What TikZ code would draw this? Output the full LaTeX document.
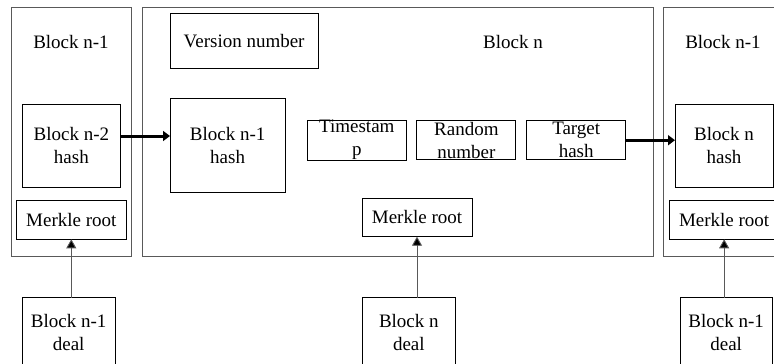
\documentclass[tikz,border=0pt]{standalone}
\usepackage{fontspec}
\setmainfont{Liberation Serif}
\usepackage{tikz}
\usetikzlibrary{positioning, arrows.meta}

\tikzset{
    outer/.style={draw=black!65, line width=0.9pt, inner sep=0pt, outer sep=0pt},
    inbox/.style={draw=black, line width=0.8pt, inner sep=0pt, outer sep=0pt, align=center},
    lbl/.style={inner sep=0pt},
    bigarrow/.style={line width=3pt, -{Triangle[length=7pt, width=10pt]}},
    smallarrow/.style={draw=black!65, line width=0.9pt, -{Triangle[length=9pt, width=10pt, fill=black]}}
}

\begin{document}
\begin{tikzpicture}[x=1pt, y=-1pt, font=\fontsize{19}{23}\selectfont]
        \useasboundingbox (0,0) rectangle (774,364);
        \clip (0,0) rectangle (774,364);

        \foreach \n/\x/\w in {blkL/71.35/120.7, blkN/398/510.6, blkR/727/126.6} {
            \node[outer, minimum width=\w, minimum height=248.3] (\n) at (\x,131.85) {};
        }
        \foreach \n/\x/\t in {lblL/71/Block n-1, lblN/513/Block n, lblR/723/Block n-1} {
            \node[lbl] (\n) at (\x,42) {\t};
        }

        \node[inbox, minimum width=98.7, minimum height=83] (hashL) at (71.35,145.5) {Block n-2\\hash};
        \node[inbox, minimum width=110, minimum height=38.6] (merkL) at (71.3,220) {Merkle root};
        \node[inbox, minimum width=93.3, minimum height=68.6] (dealL) at (68.65,332) {Block n-1\\deal};

        \node[inbox, minimum width=148.3, minimum height=55] (verN) at (244.15,40.8) {Version number};
        \node[inbox, minimum width=115.3, minimum height=94] (hashN) at (227.65,145.7) {Block n-1\\hash};
        \foreach \n/\x/\t in {timeN/356.8/Timestam\\p, randN/466.35/Random\\number, targN/576.2/Target\\hash} {
            \node[inbox, minimum width=99, minimum height=39] (\n) at (\x,140.2) {\t};
        }
        \node[inbox, minimum width=110, minimum height=38.7] (merkN) at (417,217.35) {Merkle root};
        \node[inbox, minimum width=93.7, minimum height=68.6] (dealN) at (408.85,332) {Block n\\deal};

        \node[inbox, minimum width=98, minimum height=83] (hashR) at (724,145.5) {Block n\\hash};
        \node[inbox, minimum width=109.7, minimum height=38.6] (merkR) at (724.15,220) {Merkle root};
        \node[inbox, minimum width=91.7, minimum height=68.6] (dealR) at (726.15,332) {Block n-1\\deal};

        \draw[bigarrow] ([yshift=9.5pt]hashL.east) -- ([yshift=9.5pt]hashL.east -| hashN.west);
        \draw[bigarrow] (targN.east) -- (targN.east -| hashR.west);
        \draw[smallarrow] (dealL.north -| merkL.south) -- (merkL.south);
        \draw[smallarrow] (dealN.north -| merkN.south) -- (merkN.south);
        \draw[smallarrow] (dealR.north -| merkR.south) -- (merkR.south);
    \end{tikzpicture}
\end{document}
